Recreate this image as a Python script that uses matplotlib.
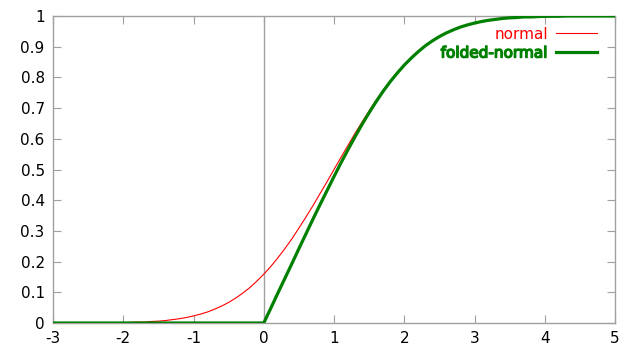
import numpy as np
import matplotlib.pyplot as plt
import matplotlib.patheffects as pe

plt.rcParams['axes.unicode_minus'] = False
plt.rcParams['font.family'] = 'DejaVu Sans'

x = np.linspace(-3, 5, 81)

# values (CDF curves)
normal = [0.000, 0.000, 0.000, 0.000, 0.000, 0.000, 0.000, 0.000, 0.001, 0.001,
          0.001, 0.002, 0.003, 0.003, 0.005, 0.006, 0.008, 0.011, 0.014, 0.018,
          0.023, 0.029, 0.036, 0.045, 0.055, 0.067, 0.081, 0.097, 0.115, 0.136,
          0.159, 0.184, 0.212, 0.242, 0.274, 0.309, 0.345, 0.382, 0.421, 0.460,
          0.500, 0.540, 0.579, 0.618, 0.655, 0.691, 0.726, 0.758, 0.788, 0.816,
          0.841, 0.864, 0.885, 0.903, 0.919, 0.933, 0.945, 0.955, 0.964, 0.971,
          0.977, 0.982, 0.986, 0.989, 0.992, 0.994, 0.995, 0.997, 0.997, 0.998,
          0.999, 0.999, 0.999, 1.000, 1.000, 1.000, 1.000, 1.000, 1.000, 1.000,
          1.000]
folded = [0.000, 0.000, 0.000, 0.000, 0.000, 0.000, 0.000, 0.000, 0.000, 0.000,
          0.000, 0.000, 0.000, 0.000, 0.000, 0.000, 0.000, 0.000, 0.000, 0.000,
          0.000, 0.000, 0.000, 0.000, 0.000, 0.000, 0.000, 0.000, 0.000, 0.000,
          0.000, 0.048, 0.097, 0.145, 0.193, 0.242, 0.290, 0.338, 0.385, 0.431,
          0.477, 0.522, 0.565, 0.607, 0.647, 0.685, 0.721, 0.755, 0.786, 0.814,
          0.840, 0.863, 0.884, 0.903, 0.919, 0.933, 0.945, 0.955, 0.964, 0.971,
          0.977, 0.982, 0.986, 0.989, 0.992, 0.994, 0.995, 0.997, 0.997, 0.998,
          0.999, 0.999, 0.999, 1.000, 1.000, 1.000, 1.000, 1.000, 1.000, 1.000,
          1.000]

xticks = [-3, -2, -1, 0, 1, 2, 3, 4, 5]
yticks = [0, 0.1, 0.2, 0.3, 0.4, 0.5, 0.6, 0.7, 0.8, 0.9, 1]

fig = plt.figure(figsize=(6.4, 3.6), dpi=100)
ax = fig.add_axes([53/640, 1 - 323/360, 562/640, 307/360])

gray = '#a0a0a0'
ax.axvline(0, color=gray, lw=1.0, zorder=1)

ax.plot(x, normal, color='#ff0000', lw=0.8, label='normal', zorder=2)
ax.plot(x, folded, color='#008000', lw=2.3, label='folded-normal', zorder=3)

ax.set_xlim(-3, 5)
ax.set_ylim(0, 1)
ax.set_xticks(xticks)
ax.set_xticklabels([str(t) for t in xticks])
ax.set_yticks(yticks)
ax.set_yticklabels(['%g' % t for t in yticks])

for s in ax.spines.values():
    s.set_color(gray)
    s.set_linewidth(1.0)
ax.tick_params(direction='in', length=5.5, width=0.8, color=gray,
               top=True, right=True, labelsize=11, labelcolor='black', pad=6)

leg = ax.legend(loc='upper right', frameon=False, markerfirst=False,
                handlelength=2.7, handletextpad=0.55, labelspacing=0.25,
                fontsize=11, bbox_to_anchor=(0.985, 0.995), borderaxespad=0.2)
texts = leg.get_texts()
texts[0].set_color('#ff0000')
texts[1].set_color('#008000')
texts[1].set_path_effects([pe.withStroke(linewidth=1.0, foreground='#008000')])

fig.savefig('out.png', dpi=100)
